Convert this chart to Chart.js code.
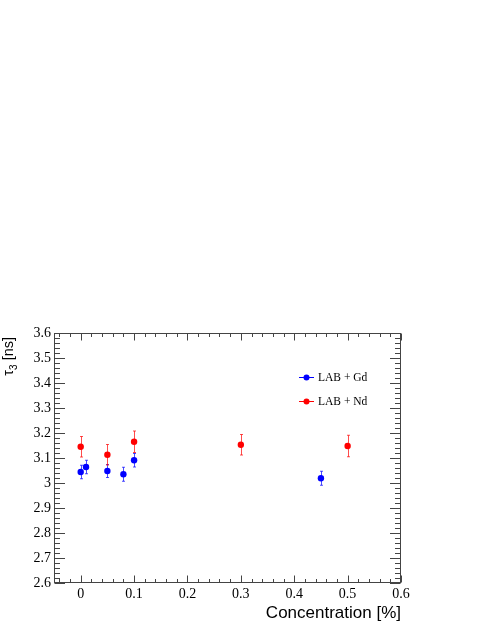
<!DOCTYPE html>
<html>
<head>
<meta charset="utf-8">
<script src="https://cdn.jsdelivr.net/npm/chart.js@4/dist/chart.umd.min.js"></script>
<style>
  html, body { margin: 0; padding: 0; background: #fff; }
</style>
</head>
<body>
<canvas id="chart" width="491" height="635"></canvas>
<script>
// data
const gdConc = [0, 0.01, 0.05, 0.08, 0.1, 0.45];
const gdTau  = [3.044, 3.064, 3.048, 3.035, 3.091, 3.019];
const gdErr  = [0.027, 0.027, 0.026, 0.028, 0.027, 0.028];

const ndConc = [0, 0.05, 0.1, 0.3, 0.5];
const ndTau  = [3.145, 3.113, 3.165, 3.153, 3.148];
const ndErr  = [0.041, 0.041, 0.043, 0.041, 0.043];

const xTicks = [0, 0.1, 0.2, 0.3, 0.4, 0.5, 0.6];
const xTickLabels = ['0', '0.1', '0.2', '0.3', '0.4', '0.5', '0.6'];
const yTicks = [2.6, 2.7, 2.8, 2.9, 3.0, 3.1, 3.2, 3.3, 3.4, 3.5, 3.6];
const yTickLabels = ['2.6', '2.7', '2.8', '2.9', '3', '3.1', '3.2', '3.3', '3.4', '3.5', '3.6'];

const toPoints = (xs, ys) => xs.map((x, i) => ({ x: x, y: ys[i] }));

// ROOT-style frame with inward ticks, error bars, legend and y title
const rootStyle = {
  id: 'rootStyle',
  beforeDatasetsDraw(chart) {
    const ctx = chart.ctx;
    const xs = chart.scales.x, ys = chart.scales.y;
    ctx.save();
    ctx.lineWidth = 1;
    chart.data.datasets.forEach(ds => {
      ctx.strokeStyle = ds.errColor;
      ds.data.forEach((p, i) => {
        const px = Math.round(xs.getPixelForValue(p.x)) + 0.5;
        const y1 = ys.getPixelForValue(p.y + ds.errors[i]);
        const y2 = ys.getPixelForValue(p.y - ds.errors[i]);
        ctx.beginPath();
        ctx.moveTo(px, y1); ctx.lineTo(px, y2);
        ctx.moveTo(px - 1.5, y1); ctx.lineTo(px + 1.5, y1);
        ctx.moveTo(px - 1.5, y2); ctx.lineTo(px + 1.5, y2);
        ctx.stroke();
      });
    });
    ctx.restore();
  },
  afterDraw(chart) {
    const ctx = chart.ctx;
    const a = chart.chartArea;
    const xs = chart.scales.x, ys = chart.scales.y;
    const L = Math.round(a.left) + 0.5, R = Math.round(a.right) - 0.5;
    const T = Math.round(a.top) + 0.5, B = Math.round(a.bottom) - 0.5;
    ctx.save();
    ctx.strokeStyle = '#444';
    ctx.lineWidth = 1;
    ctx.strokeRect(L, T, R - L, B - T);

    ctx.beginPath();
    // x ticks, 4 minors between majors
    const xStep = (xTicks[1] - xTicks[0]) / 5;
    for (let v = xTicks[0] - 2 * xStep; v <= xs.max + 1e-9; v += xStep) {
      if (v < xs.min - 1e-9) continue;
      const major = Math.abs(Math.round(v / (5 * xStep)) * 5 * xStep - v) < 1e-6;
      const len = major ? 7 : 3.5;
      const px = Math.round(xs.getPixelForValue(v)) + 0.5;
      ctx.moveTo(px, B); ctx.lineTo(px, B - len);
      ctx.moveTo(px, T); ctx.lineTo(px, T + len);
    }
    // y ticks
    const yStep = (yTicks[1] - yTicks[0]) / 5;
    for (let v = ys.min; v <= ys.max + 1e-9; v += yStep) {
      const k = (v - ys.min) / yStep;
      const major = Math.abs(Math.round(k) % 5) === 0;
      const len = major ? 10.5 : 5.5;
      const py = Math.round(ys.getPixelForValue(v)) + 0.5;
      ctx.moveTo(L, py); ctx.lineTo(L + len, py);
      ctx.moveTo(R, py); ctx.lineTo(R - len, py);
    }
    ctx.stroke();

    // legend
    const legX = 299, legY = [377, 401];
    ctx.font = "11.5px 'Liberation Serif'";
    ctx.textBaseline = 'middle';
    ctx.textAlign = 'left';
    chart.data.datasets.forEach((ds, i) => {
      const y = legY[i];
      ctx.strokeStyle = ds.borderColor;
      ctx.beginPath();
      ctx.moveTo(legX, y + 0.5); ctx.lineTo(legX + 15, y + 0.5);
      ctx.stroke();
      ctx.fillStyle = ds.backgroundColor;
      ctx.beginPath();
      ctx.arc(legX + 7.5, y + 0.5, 3, 0, Math.PI * 2);
      ctx.fill();
      ctx.fillStyle = '#000';
      ctx.fillText(ds.label, legX + 19, y + 1);
    });

    // y axis title: tau_3 [ns], rotated, end aligned to top
    ctx.translate(13, 337);
    ctx.rotate(-Math.PI / 2);
    ctx.fillStyle = '#000';
    ctx.textBaseline = 'alphabetic';
    const big = "14.5px 'Liberation Sans'", small = "10px 'Liberation Sans'";
    ctx.font = big; const w1 = ctx.measureText('\u03c4').width;
    ctx.font = small; const w2 = ctx.measureText('3').width;
    ctx.font = big; const w3 = ctx.measureText(' [ns]').width;
    let x0 = -(w1 + w2 + w3);
    ctx.font = big; ctx.fillText('\u03c4', x0, 0);
    ctx.font = small; ctx.fillText('3', x0 + w1, 3.5);
    ctx.font = big; ctx.fillText(' [ns]', x0 + w1 + w2, 0);
    ctx.restore();
  }
};

new Chart(document.getElementById('chart'), {
  type: 'scatter',
  data: {
    datasets: [
      {
        label: 'LAB + Gd',
        data: toPoints(gdConc, gdTau),
        errors: gdErr,
        backgroundColor: '#0000ff',
        borderColor: '#0000ff',
        errColor: 'rgba(0, 0, 255, 0.7)',
        pointRadius: 3.2,
        borderWidth: 0
      },
      {
        label: 'LAB + Nd',
        data: toPoints(ndConc, ndTau),
        errors: ndErr,
        backgroundColor: '#ff0000',
        borderColor: '#ff0000',
        errColor: 'rgba(255, 0, 0, 0.7)',
        pointRadius: 3.2,
        borderWidth: 0
      }
    ]
  },
  options: {
    responsive: false,
    animation: false,
    layout: { padding: { top: 333, right: 90, left: 0, bottom: 0 } },
    plugins: {
      legend: { display: false },
      tooltip: { enabled: false }
    },
    scales: {
      x: {
        type: 'linear',
        min: -0.05,
        max: 0.6,
        afterBuildTicks: s => { s.ticks = xTicks.map(v => ({ value: v })); },
        afterFit: s => { s.height = 52; },
        grid: { display: false, drawTicks: false },
        border: { display: false },
        ticks: {
          padding: 3,
          color: '#000',
          autoSkip: false,
          maxRotation: 0,
          font: { family: 'Liberation Serif', size: 14 },
          callback: (v, i) => xTickLabels[i]
        },
        title: {
          display: true,
          text: 'Concentration [%]',
          align: 'end',
          color: '#000',
          font: { family: 'Liberation Sans', size: 17 },
          padding: { top: 0, bottom: 11 }
        }
      },
      y: {
        type: 'linear',
        min: 2.6,
        max: 3.6,
        afterBuildTicks: s => { s.ticks = yTicks.map(v => ({ value: v })); },
        afterFit: s => { s.width = 54; },
        grid: { display: false, drawTicks: false },
        border: { display: false },
        ticks: {
          padding: 3,
          color: '#000',
          autoSkip: false,
          font: { family: 'Liberation Serif', size: 14 },
          callback: (v, i) => yTickLabels[i]
        }
      }
    }
  },
  plugins: [rootStyle]
});
</script>
</body>
</html>
